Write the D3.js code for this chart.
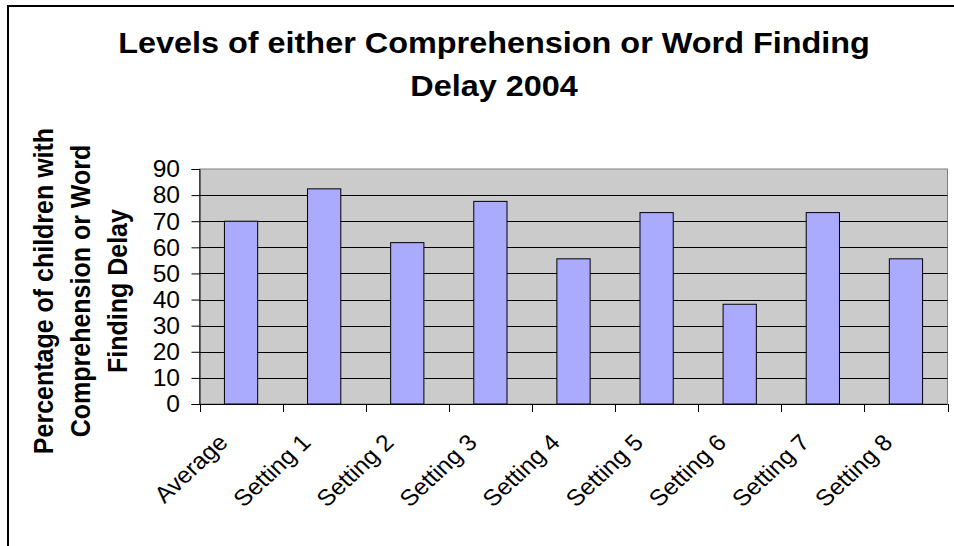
<!DOCTYPE html>
<html>
<head>
<meta charset="utf-8">
<script src="https://cdn.jsdelivr.net/npm/d3@7"></script>
<style>
  html, body { margin: 0; padding: 0; background: #fff; }
  svg { display: block; }
  text { font-family: "Liberation Sans", Arial, sans-serif; }
</style>
</head>
<body>
<svg id="chart" width="954" height="546"></svg>
<script>
// Share of children with comprehension or word-finding delay, 2004
const categories = ["Average", "Setting 1", "Setting 2", "Setting 3", "Setting 4",
                    "Setting 5", "Setting 6", "Setting 7", "Setting 8"];
const values = [70, 82.4, 61.8, 77.6, 55.6, 73.3, 38.2, 73.3, 55.6];
const yTicks = [0, 10, 20, 30, 40, 50, 60, 70, 80, 90];
const titleLines = ["Levels of either Comprehension or Word Finding", "Delay 2004"];
const yTitleLines = ["Percentage of children with", "Comprehension or Word", "Finding Delay"];

const svg = d3.select("#chart");
const plot = { left: 199.5, right: 947.5, top: 169, bottom: 404 };
const sx = 1.07; // slight horizontal widening of all text

// outer chart frame
svg.append("rect")
  .attr("x", 8).attr("y", 6).attr("width", 1000).attr("height", 600)
  .attr("fill", "#fff").attr("stroke", "#000").attr("stroke-width", 2);

const x = d3.scaleBand().domain(categories)
  .range([plot.left, plot.right]).paddingInner(0.6).paddingOuter(0.3);
const band = d3.scaleBand().domain(categories).range([plot.left, plot.right]);
const y = d3.scaleLinear().domain([0, 90]).range([plot.bottom, plot.top]);

// plot background
svg.append("rect")
  .attr("x", plot.left).attr("y", plot.top)
  .attr("width", plot.right - plot.left).attr("height", plot.bottom - plot.top)
  .attr("fill", "#cbcbcb").attr("stroke", "#808080").attr("stroke-width", 1);

// horizontal gridlines
svg.append("g").selectAll("line").data(yTicks.filter(t => t > 0 && t < 90)).join("line")
  .attr("x1", plot.left).attr("x2", plot.right)
  .attr("y1", d => Math.round(y(d)) + 0.5).attr("y2", d => Math.round(y(d)) + 0.5)
  .attr("stroke", "#000").attr("stroke-width", 1);

// bars
svg.append("g").selectAll("rect").data(values).join("rect")
  .attr("x", (d, i) => x(categories[i]))
  .attr("y", d => y(d))
  .attr("width", x.bandwidth())
  .attr("height", d => plot.bottom - y(d))
  .attr("fill", "#aaaaff").attr("stroke", "#000").attr("stroke-width", 1);

// y axis
const yAxis = d3.axisLeft(y).tickValues(yTicks).tickSize(8).tickFormat(() => "");
const gy = svg.append("g").attr("transform", `translate(${plot.left},0)`).call(yAxis);
gy.select(".domain").attr("stroke", "#000");
gy.selectAll(".tick line").attr("stroke", "#000");
svg.append("g").selectAll("text").data(yTicks).join("text")
  .attr("transform", d => `translate(180,${y(d)}) scale(${sx},1)`)
  .attr("dy", "0.36em")
  .attr("text-anchor", "end")
  .attr("font-size", 23).attr("fill", "#000")
  .text(d => d);

// x axis: ticks at category boundaries
const boundaries = categories.map(c => band(c)).concat([plot.right]);
svg.append("line")
  .attr("x1", plot.left).attr("x2", plot.right)
  .attr("y1", plot.bottom + 0.5).attr("y2", plot.bottom + 0.5)
  .attr("stroke", "#000");
svg.append("g").selectAll("line").data(boundaries).join("line")
  .attr("x1", d => Math.round(d) + 0.5).attr("x2", d => Math.round(d) + 0.5)
  .attr("y1", plot.bottom).attr("y2", plot.bottom + 8)
  .attr("stroke", "#000");

// rotated category labels
svg.append("g").selectAll("text").data(categories).join("text")
  .attr("transform", d => `translate(${band(d) + band.bandwidth() / 2 - 12},${plot.bottom + 40}) scale(${sx},1) rotate(-45)`)
  .attr("text-anchor", "end")
  .attr("font-size", 23)
  .attr("fill", "#000")
  .text(d => d);

// chart title
svg.append("g").selectAll("text").data(titleLines).join("text")
  .attr("transform", (d, i) => `translate(494,${53 + i * 43}) scale(1.08,1)`)
  .attr("text-anchor", "middle")
  .attr("font-size", 30).attr("font-weight", "bold")
  .attr("fill", "#000")
  .text(d => d);

// y axis title
svg.append("g").selectAll("text").data(yTitleLines).join("text")
  .attr("transform", (d, i) => `translate(${53 + i * 37},291) scale(${sx},1) rotate(-90)`)
  .attr("text-anchor", "middle")
  .attr("font-size", 25).attr("font-weight", "bold")
  .attr("fill", "#000")
  .text(d => d);
</script>
</body>
</html>
